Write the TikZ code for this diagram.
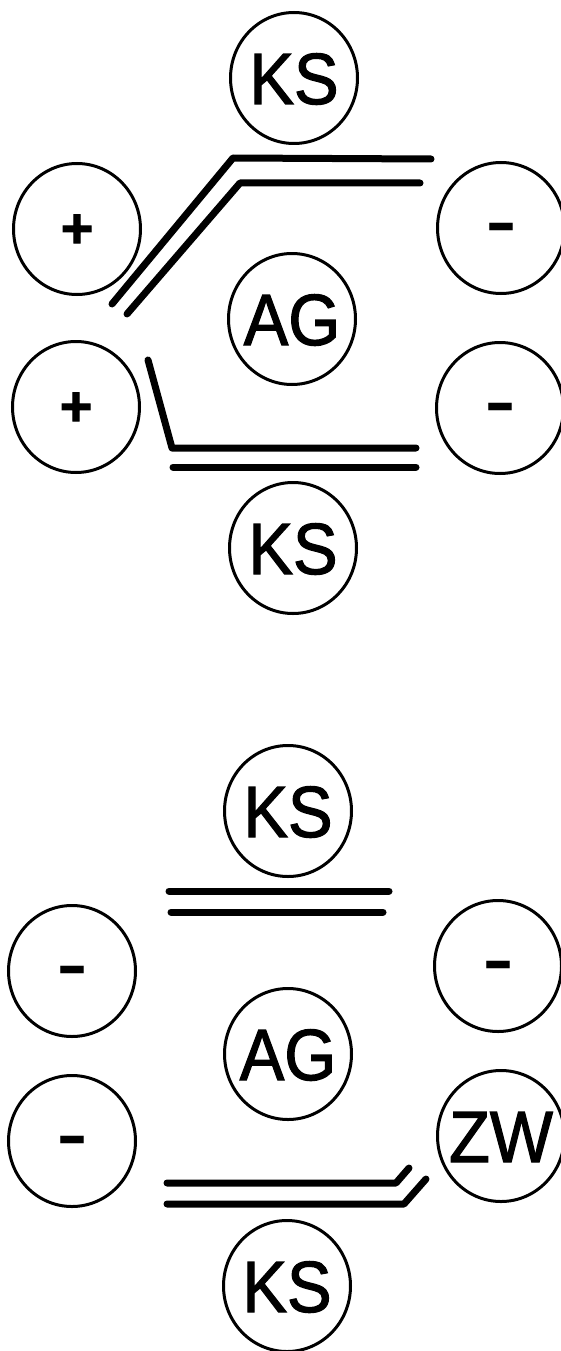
\documentclass[tikz,border=0pt]{standalone}
\usepackage{fontspec}
\setmainfont{Liberation Sans}
\newfontfamily\lblfont[FakeStretch=0.92, FakeBold=1.6]{Liberation Sans}
\newfontfamily\signfont[FakeBold=1.5]{Liberation Sans Bold}
\usetikzlibrary{shapes.geometric}
\tikzset{
  ring/.style={draw, ellipse, line width=3pt, minimum width=127pt, minimum height=131pt, inner sep=0pt},
  lbl/.style={ring, font=\lblfont\fontsize{72.6}{80}\selectfont, text height=52pt, text depth=0pt},
  pluscirc/.style={ring, font=\signfont\fontsize{56}{60}\selectfont, text height=37pt, text depth=0pt},
  minuscirc/.style={ring, font=\fontsize{96}{100}\selectfont, text height=49.5pt, text depth=0pt},
  bar/.style={line width=7pt, line cap=round, line join=round},
}
\newcommand{\tx}[1]{\makebox[0pt][c]{#1}}
\begin{document}
\begin{tikzpicture}[x=1pt, y=-1pt]
\useasboundingbox (0,0) rectangle (560,1351);
% upper group
\node[lbl] (ks1) at (294,78) {\tx{KS}};
\node[pluscirc] (p1) at (77,229) {+};
\node[pluscirc] (p2) at (76,407) {+};
\node[minuscirc] (m1) at (501,228) {-};
\node[minuscirc] (m2) at (500,408) {-};
\node[lbl] (ag1) at (292,319) {\tx{AG}};
\node[lbl] (ks2) at (293,548) {\tx{KS}};
\draw[bar] (112,304) -- (233,158) -- (431,159);
\draw[bar] (127,314) -- (240,183) -- (420,183);
\draw[bar] (148,360) -- (172,448) -- (416,448);
\draw[bar] (173,467) -- (416,467);
% lower group
\node[lbl] (ks3) at (288,811) {\tx{KS}};
\node[minuscirc] (m3) at (72,971) {-};
\node[minuscirc] (m4) at (498,966) {-};
\node[lbl] (ag2) at (288,1054) {\tx{AG}};
\node[minuscirc] (m5) at (72,1141) {-};
\node[lbl] (zw) at (501,1136) {\tx{ZW}};
\node[lbl] (ks4) at (287,1286) {\tx{KS}};
\draw[bar] (169,891) -- (389,891);
\draw[bar] (171,912) -- (383,912);
\draw[bar] (167,1183) -- (396,1183) -- (409,1168);
\draw[bar] (167,1204) -- (404,1204) -- (426,1179);
\end{tikzpicture}
\end{document}
